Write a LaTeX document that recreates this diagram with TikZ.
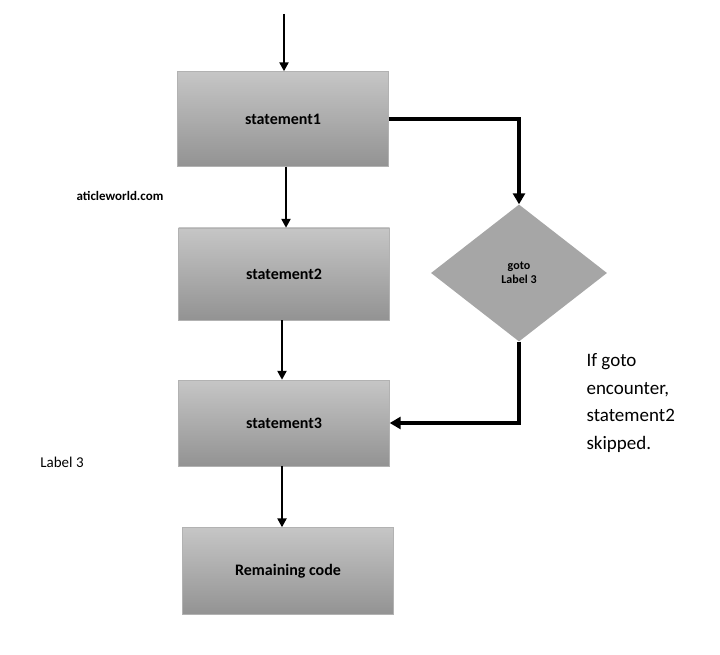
\documentclass[tikz,border=0pt]{standalone}
\usepackage{fontspec}
\setmainfont{Carlito}
\usetikzlibrary{shapes.geometric,arrows.meta}
\tikzset{
  stmt/.style={draw=gray!60,top color=gray!45,bottom color=gray!85,minimum width=211pt,minimum height=92pt,font=\bfseries\fontsize{16}{18}\selectfont},
  flow/.style={line width=2.5pt,-{Triangle[length=9pt,width=9pt]}},
  jump/.style={line width=4.5pt,-{Triangle[length=11pt,width=12pt]}}
}
\begin{document}
\begin{tikzpicture}[x=1pt,y=-1pt]
  \useasboundingbox (0,0) rectangle (720,655);
  \node[stmt,minimum height=95pt] (s1) at (283,119) {statement1};
  \node[stmt] (s2) at (284,274) {statement2};
  \node[stmt,minimum height=86pt] (s3) at (284,423) {statement3};
  \node[stmt,minimum height=87pt] (rc) at (288,571) {Remaining code};
  \node[diamond,fill=gray!70,minimum width=176pt,minimum height=137pt,inner sep=0pt,align=center,font=\bfseries\fontsize{12}{14}\selectfont] (gt) at (519,273) {goto\\Label 3};
  \coordinate (start) at (284,14);
  \draw[flow] (start) -- (s1.north -| start);
  \draw[flow] (s1.south -| 286,0) -- (s2.north -| 286,0);
  \draw[flow] (s2.south -| 282,0) -- (s3.north -| 282,0);
  \draw[flow] (s3.south -| 282,0) -- (rc.north -| 282,0);
  \draw[jump] (s1.east) -| (gt.north);
  \draw[jump] (gt.south) |- (s3.east);
  \node[font=\bfseries\fontsize{13}{15}\selectfont] (site) at (120,196) {aticleworld.com};
  \node[font=\fontsize{15}{17}\selectfont] (lbl) at (62,462) {Label 3};
  \node[anchor=north west,align=left,font=\fontsize{19}{27.5}\selectfont] (note) at (583,350) {If goto\\encounter,\\statement2\\skipped.};
\end{tikzpicture}
\end{document}
